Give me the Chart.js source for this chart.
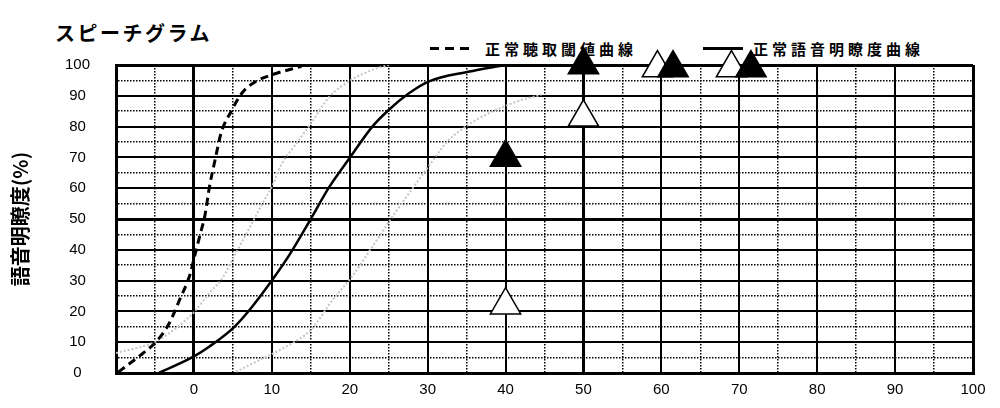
<!DOCTYPE html>
<html lang="ja">
<head>
<meta charset="utf-8">
<title>スピーチグラム</title>
<script src="https://cdn.jsdelivr.net/npm/chart.js"></script>
<style>
  body { margin: 0; background: #fff; }
  #marco { position: relative; width: 1000px; height: 408px; font-family: "Noto Sans CJK JP", sans-serif; color: #000; }
  #marco canvas { position: absolute; left: 0; top: 0; z-index: 1; }
  .titulo { position: absolute; left: 55px; top: 20px; font-size: 20px; font-weight: bold; letter-spacing: 2.5px; line-height: 26px; }
  .ley-texto { position: absolute; top: 39px; font-size: 15px; font-weight: bold; letter-spacing: 4px; line-height: 20px; white-space: nowrap; }
  .ley-linea { position: absolute; top: 47px; width: 40px; height: 3px; }
  .punteada { background: repeating-linear-gradient(to right, #000 0 9px, transparent 9px 15px); }
  .continua { background: #000; }
</style>
</head>
<body>
<div id="marco">
  <div class="titulo">スピーチグラム</div>
  <span class="ley-linea punteada" style="left:430px"></span>
  <span class="ley-texto" style="left:485px">正常聴取閾値曲線</span>
  <span class="ley-linea continua" style="left:703px"></span>
  <span class="ley-texto" style="left:753px">正常語音明瞭度曲線</span>
  <canvas id="grafico" width="1000" height="408"></canvas>
</div>
<script>
// ejes
var xTicks = [-10, 100];   // min / max del eje x (dB)
var yTicks = [0, 100];     // min / max del eje y (%)

// 正常聴取閾値曲線 (linea de guiones)
var umbralX = [-9.7, -6.5, -4.8, -3.2, -1.8, -0.5, 0.1, 0.8, 1.4, 2.0, 2.7, 3.5, 4.8, 6.2, 7.9, 10, 13.8];
var umbralY = [0.3, 6.5, 10.3, 16, 24, 32, 38, 45, 51, 60.5, 69, 78, 85, 91, 94.6, 96.8, 99.6];

// 正常語音明瞭度曲線 (linea continua)
var claridadX = [-4.5, 0, 2, 5.2, 7.5, 10, 12.3, 15, 17.4, 20.1, 22.9, 25, 27.6, 30.1, 35.2, 39.9];
var claridadY = [0, 5.4, 8.6, 15, 21.6, 30, 38.5, 50, 60.5, 70.2, 80, 85.4, 90.8, 94.6, 97.8, 100];

// curvas grises punteadas
var gris1X = [-10, -4.8, -2.1, 0, 2, 3.7, 5.4, 7, 8.8, 10, 11.3, 13, 15, 17.4, 20.1, 22.9, 25];
var gris1Y = [6.5, 10.3, 15, 19.7, 26, 31, 39, 46.5, 55, 60.5, 68, 74, 81, 89.7, 95, 98.4, 100];
var gris2X = [5.4, 8.4, 11.8, 15, 17.8, 20.1, 22.9, 25.2, 27.6, 30.1, 32.7, 35.2, 37.8, 42, 44.6];
var gris2Y = [0.4, 4.2, 8.5, 14, 23.7, 30.7, 41, 49.7, 58.3, 67, 75.6, 80.5, 84.3, 88.6, 90.3];

// triangulos (medidas)
var abiertoX = [40, 50, 59.5, 69];
var abiertoY = [22, 83, 99, 99];
var llenoX = [40, 50, 61.5, 71.5];
var llenoY = [70, 100, 99, 99];

function puntos(xs, ys) {
    return xs.map(function (x, i) { return { x: x, y: ys[i] }; });
}

// grosor de la reticula segun el valor
function grosorLinea(min, max) {
    return function (ctx) {
        if (!ctx.tick) return 1;
        var v = ctx.tick.value;
        if (v === min || v === max || v === 0 || v === 50) return 3;
        if (v % 10 === 0) return 2;
        return 1.5;
    };
}

function guionLinea(ctx) {
    if (!ctx.tick) return [];
    return ctx.tick.value % 10 === 0 ? [] : [1.5, 1.5];
}

var fuenteTicks = { family: "'Liberation Sans', Arial, sans-serif", size: 15 };

new Chart(document.getElementById('grafico').getContext('2d'), {
    type: 'scatter',
    data: {
        datasets: [
            {
                label: 'lleno',
                data: puntos(llenoX, llenoY),
                pointStyle: 'triangle',
                pointRadius: 17.5,
                pointBackgroundColor: '#000',
                pointBorderColor: '#000',
                pointBorderWidth: 1.5,
                clip: false,
                order: 0
            },
            {
                label: 'abierto',
                data: puntos(abiertoX, abiertoY),
                pointStyle: 'triangle',
                pointRadius: 17.5,
                pointBackgroundColor: '#fff',
                pointBorderColor: '#000',
                pointBorderWidth: 1.5,
                clip: false,
                order: 1
            },
            {
                label: '正常聴取閾値曲線',
                data: puntos(umbralX, umbralY),
                showLine: true,
                borderColor: '#000',
                borderWidth: 3,
                borderDash: [8, 5],
                pointRadius: 0,
                cubicInterpolationMode: 'monotone',
                order: 2
            },
            {
                label: '正常語音明瞭度曲線',
                data: puntos(claridadX, claridadY),
                showLine: true,
                borderColor: '#000',
                borderWidth: 2.5,
                pointRadius: 0,
                cubicInterpolationMode: 'monotone',
                order: 2
            },
            {
                label: 'gris1',
                data: puntos(gris1X, gris1Y),
                showLine: true,
                borderColor: '#c4c4c4',
                borderWidth: 2,
                borderDash: [2, 2],
                pointRadius: 0,
                cubicInterpolationMode: 'monotone',
                order: 3
            },
            {
                label: 'gris2',
                data: puntos(gris2X, gris2Y),
                showLine: true,
                borderColor: '#c4c4c4',
                borderWidth: 2,
                borderDash: [2, 2],
                pointRadius: 0,
                cubicInterpolationMode: 'monotone',
                order: 3
            }
        ]
    },
    options: {
        responsive: false,
        animation: false,
        devicePixelRatio: 1,
        layout: { padding: { top: 65, right: 27, bottom: 0, left: 0 } },
        plugins: {
            legend: { display: false },
            tooltip: { enabled: false },
            title: { display: false }
        },
        scales: {
            x: {
                type: 'linear',
                min: xTicks[0],
                max: xTicks[1],
                afterFit: function (scale) { scale.height = 35; },
                ticks: {
                    stepSize: 5,
                    autoSkip: false,
                    maxRotation: 0,
                    padding: 8,
                    color: '#000',
                    font: fuenteTicks,
                    callback: function (v) { return (v % 10 === 0 && v >= 0) ? v : ''; }
                },
                grid: { color: '#000', drawTicks: false, lineWidth: grosorLinea(xTicks[0], xTicks[1]) },
                border: { display: true, color: '#000', width: 3, dash: guionLinea }
            },
            y: {
                type: 'linear',
                min: yTicks[0],
                max: yTicks[1],
                afterFit: function (scale) { scale.width = 116; },
                title: {
                    display: true,
                    text: '語音明瞭度(%)',
                    color: '#000',
                    font: { family: "'Noto Sans CJK JP', sans-serif", size: 20, weight: 'bold' },
                    padding: { top: 8, bottom: 0 }
                },
                ticks: {
                    stepSize: 5,
                    autoSkip: false,
                    padding: 26,
                    crossAlign: 'center',
                    color: '#000',
                    font: fuenteTicks,
                    callback: function (v) { return v % 10 === 0 ? v : ''; }
                },
                grid: { color: '#000', drawTicks: false, lineWidth: grosorLinea(yTicks[0], yTicks[1]) },
                border: { display: true, color: '#000', width: 3, dash: guionLinea }
            }
        }
    }
});
</script>
</body>
</html>
